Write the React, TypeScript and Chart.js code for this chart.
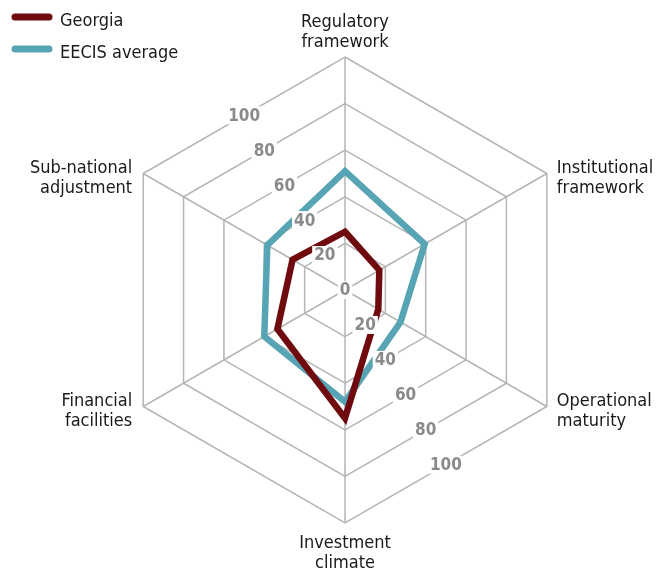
import React, { useEffect, useRef } from 'react';
import { Chart, registerables } from 'chart.js';

Chart.register(...registerables);

// ---- data ----
const categories: string[][] = [
  ['Regulatory', 'framework'],
  ['Institutional', 'framework'],
  ['Operational', 'maturity'],
  ['Investment', 'climate'],
  ['Financial', 'facilities'],
  ['Sub-national', 'adjustment'],
];
const georgiaValues = [25, 17, 16.5, 55, 33.5, 26];
const eecisValues = [51, 39.5, 27.5, 48, 40, 38.5];
const seriesNames = ['Georgia', 'EECIS average'];
const tickValues = [0, 20, 40, 60, 80, 100];

const FONT = '"DejaVu Sans Condensed", "DejaVu Sans", sans-serif';
const RED = '#6f0b0f';
const TEAL = '#57a4b4';

const overlayPlugin = {
  id: 'overlay',
  afterDatasetsDraw(chart: any) {
    const s = chart.scales.r;
    const ctx: CanvasRenderingContext2D = chart.ctx;
    ctx.save();

    // tick labels along the hexagon edges
    ctx.font = `bold 17px ${FONT}`;
    ctx.textAlign = 'center';
    ctx.textBaseline = 'middle';
    const drawTick = (v: number, x: number, y: number) => {
      const t = String(v);
      const w = ctx.measureText(t).width;
      ctx.fillStyle = '#ffffff';
      ctx.fillRect(x - w / 2 - 2, y - 9, w + 4, 18);
      ctx.fillStyle = '#8a8a8a';
      ctx.fillText(t, x, y + 1);
    };
    tickValues.forEach((v) => {
      const d = s.getDistanceFromCenterForValue(v);
      if (v === 0) {
        drawTick(v, s.xCenter, s.yCenter);
        return;
      }
      const a = s.getPointPosition(5, d);
      const b = s.getPointPosition(0, d);
      drawTick(v, (a.x + b.x) / 2, (a.y + b.y) / 2);
      const c = s.getPointPosition(2, d);
      const e = s.getPointPosition(3, d);
      drawTick(v, (c.x + e.x) / 2, (c.y + e.y) / 2);
    });

    // point labels
    ctx.font = `18px ${FONT}`;
    ctx.fillStyle = '#1a1a1a';
    ctx.textBaseline = 'alphabetic';
    const lh = 20;
    const labels: string[][] = chart.data.labels;
    labels.forEach((lines, i) => {
      const p = s.getPointPosition(i, s.drawingArea);
      let x = p.x;
      let y0 = p.y;
      if (i === 0) {
        ctx.textAlign = 'center';
        y0 = p.y - 10 - lh * (lines.length - 1);
      } else if (i === 3) {
        ctx.textAlign = 'center';
        y0 = p.y + 25;
      } else if (i === 1 || i === 2) {
        ctx.textAlign = 'left';
        x = p.x + 10;
        y0 = p.y - 1;
      } else {
        ctx.textAlign = 'right';
        x = p.x - 11;
        y0 = p.y - 1;
      }
      lines.forEach((ln, k) => ctx.fillText(ln, x, y0 + k * lh));
    });

    // legend
    ctx.textAlign = 'left';
    ctx.lineCap = 'round';
    chart.data.datasets.forEach((ds: any, i: number) => {
      const ly = 17 + i * 32;
      ctx.strokeStyle = ds.borderColor;
      ctx.lineWidth = 7;
      ctx.beginPath();
      ctx.moveTo(15, ly);
      ctx.lineTo(49, ly);
      ctx.stroke();
      ctx.fillStyle = '#1a1a1a';
      ctx.fillText(ds.label, 60, ly + 9);
    });

    ctx.restore();
  },
};

export default function App() {
  const ref = useRef<HTMLCanvasElement | null>(null);
  useEffect(() => {
    if (!ref.current) return;
    const chart = new Chart(ref.current, {
      type: 'radar',
      data: {
        labels: categories as any,
        datasets: [
          {
            label: seriesNames[0],
            data: georgiaValues,
            borderColor: RED,
            backgroundColor: 'rgba(0,0,0,0)',
            borderWidth: 6.5,
            pointRadius: 0,
            fill: false,
            borderJoinStyle: 'miter',
          },
          {
            label: seriesNames[1],
            data: eecisValues,
            borderColor: TEAL,
            backgroundColor: 'rgba(0,0,0,0)',
            borderWidth: 6.5,
            pointRadius: 0,
            fill: false,
            borderJoinStyle: 'miter',
          },
        ],
      },
      options: {
        animation: false,
        responsive: true,
        maintainAspectRatio: false,
        layout: { padding: { left: 112, right: 94, top: 57, bottom: 48 } },
        plugins: { legend: { display: false }, tooltip: { enabled: false } },
        elements: { line: { tension: 0 } },
        scales: {
          r: {
            min: 0,
            max: 100,
            ticks: { stepSize: 20, display: false },
            pointLabels: { display: false },
            grid: { color: '#b5b5b5', lineWidth: 1.5 },
            angleLines: { color: '#b5b5b5', lineWidth: 1.5 },
          },
        },
      },
      plugins: [overlayPlugin],
    });
    return () => chart.destroy();
  }, []);
  return (
    <div style={{ position: 'fixed', left: 0, top: 0, width: 672, height: 571, background: '#fff' }}>
      <canvas ref={ref} />
    </div>
  );
}
